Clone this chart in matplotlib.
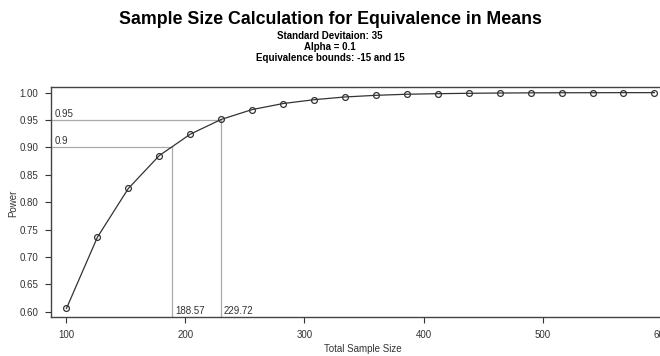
import matplotlib
matplotlib.use("Agg")
import matplotlib.pyplot as plt
import numpy as np

plt.rcParams['font.family'] = ['Liberation Sans', 'DejaVu Sans']

sample_size = [100, 126, 152, 178, 204, 230, 256, 282, 308, 334,
               360, 386, 412, 438, 464, 490, 516, 542, 568, 594]
power = [0.606, 0.736, 0.825, 0.885, 0.924, 0.951, 0.969, 0.980, 0.987, 0.992,
         0.995, 0.997, 0.998, 0.9987, 0.9992, 0.9995, 0.9997, 0.9998, 0.9999, 0.9999]
target_power = [0.9, 0.95]
target_n = [188.57, 229.72]
target_labels = ["0.9", "0.95"]
n_labels = ["188.57", "229.72"]
xticks = [100, 200, 300, 400, 500, 600]
yticks = [0.60, 0.65, 0.70, 0.75, 0.80, 0.85, 0.90, 0.95, 1.00]

W, H = 660, 356
fig = plt.figure(figsize=(W / 100, H / 100), dpi=100)
l, r, t, b = 51, 677, 87, 317
ax = fig.add_axes([l / W, 1 - b / H, (r - l) / W, (b - t) / H])

xmin, xmax = 87, 613
ymin, ymax = 0.5903, 1.0102
ax.set_xlim(xmin, xmax)
ax.set_ylim(ymin, ymax)

grey = '#aaaaaa'
for p, n, pl, nl in zip(target_power, target_n, target_labels, n_labels):
    ax.plot([xmin, n], [p, p], color=grey, lw=0.9, zorder=1)
    ax.plot([n, n], [ymin, p], color=grey, lw=0.9, zorder=1)
    ax.text(xmin + 3, p + 0.002, pl, fontsize=7, color='#333333', ha='left', va='bottom')
    ax.text(n + 2.5, ymin + 0.002, nl, fontsize=7, color='#333333', ha='left', va='bottom')

ax.plot(sample_size, power, color='#333333', lw=0.9, zorder=2)
ax.plot(sample_size, power, 'o', mfc='none', mec='#333333', ms=4.2, mew=0.9, zorder=3)

ax.set_xticks(xticks)
ax.set_xticklabels([str(v) for v in xticks])
ax.set_yticks(yticks)
ax.set_yticklabels([f"{v:.2f}" for v in yticks])
ax.tick_params(direction='out', length=4, width=0.8, labelsize=7, colors='#333333', pad=5)
for s in ax.spines.values():
    s.set_color('#444444')
    s.set_linewidth(1.0)

fig.text(363 / W, 1 - 349 / H, "Total Sample Size", fontsize=7, ha='center', va='center', color='#333333')
fig.text(13 / W, 1 - 203 / H, "Power", fontsize=7, ha='center', va='center', rotation=90, color='#333333')

fig.text(330 / W, 1 - 19 / H, "Sample Size Calculation for Equivalence in Means",
         fontsize=12.8, fontweight='bold', ha='center', va='center', color='black')
subs = ["Standard Devitaion: 35", "Alpha = 0.1", "Equivalence bounds: -15 and 15"]
for i, s in enumerate(subs):
    fig.text(330 / W, 1 - (36 + 11 * i) / H, s, fontsize=7, fontweight='bold',
             ha='center', va='center', color='black')

fig.savefig("out.png", dpi=100)
